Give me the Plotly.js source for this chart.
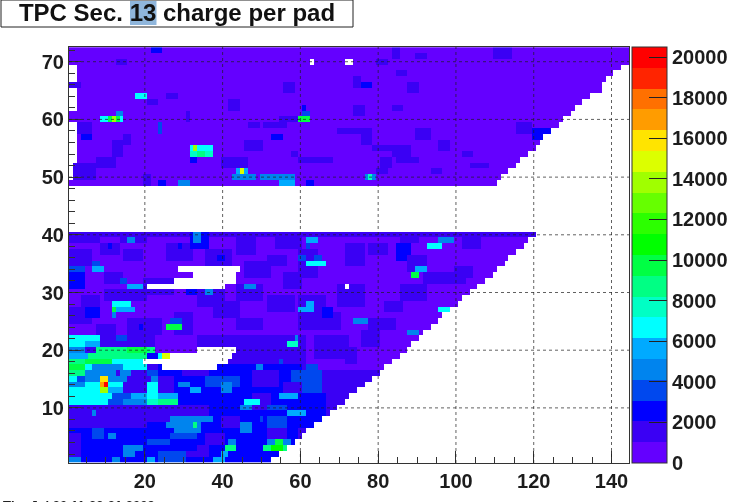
<!DOCTYPE html>
<html>
<head>
<meta charset="utf-8">
<script src="https://cdn.plot.ly/plotly-3.0.1.min.js"></script>
<style>html,body{margin:0;padding:0;background:#fff;overflow:hidden;width:740px;height:502px}#chart{width:760px;height:502px;filter:blur(0.55px)}</style>
</head>
<body>
<div id="chart"></div>
<script>
var titleText = "TPC Sec. 13 charge per pad";
var stampText = "Thu Jul 30 11:23:31 2009";
var xTicks = [20, 40, 60, 80, 100, 120, 140];
var yTicks = [10, 20, 30, 40, 50, 60, 70];
var barTicks = [0, 2000, 4000, 6000, 8000, 10000, 12000, 14000, 16000, 18000, 20000];
var bandColors = ["#6400ff","#3a00f4","#0000ff","#0048ee","#0084ee","#00aaff","#00ffff","#00ffc4","#00ff84","#00ff44",
                  "#00ff00","#2cff00","#66ff00","#a0ff00","#dcff00","#ffe400","#ff9c00","#ff7000","#ff2400","#ff0000"];

// last filled pad of each row
var rowEndLower = [52,54,56,58,60,61,63,65,67,69,71,72,74,76,78,80,81,83,85,87,88,90,91,93,95,96,98,100,101,103,105,107,109,110,112,113,115,117,118,120];
var rowEndUpper = [110,111,113,115,116,118,120,121,122,124,126,127,129,130,132,134,137,137,138,140,142,144,144,144];

// blocks: [rowFrom, rowTo, padFrom, padTo, charge]
var backgroundBlocks = [
  [49,72,1,144,600],[23,40,1,121,800],[11,22,1,90,1300],[1,10,1,70,2400],[40,40,1,121,1700],
  [7,10,1,20,1500],[8,10,20,32,1700],[2,5,1,3,1500],[1,6,60,70,1500],[7,16,66,81,1100],[17,22,62,90,800],
  [11,17,24,45,2500],[12,15,24,27,1600],[20,22,23,33,1000],[18,22,44,60,1700],[12,17,46,60,2400],[9,12,46,66,2300],[13,16,60,65,3100]
];
var textureBlocks = [
  [39,40,1,8,1400],[39,40,14,20,1400],[37,38,9,13,1700],[35,37,1,6,1500],[31,33,1,4,2600],[29,30,10,20,1500],[30,32,20,27,1500],
  [36,38,26,32,2000],[38,40,32,36,2500],[35,37,36,42,2000],[28,30,34,40,2000],[25,27,1,6,1600],[26,27,5,8,2400],
  [23,25,16,24,1500],[23,26,28,32,1600],[28,29,4,8,1400],[23,24,8,12,1500],[32,33,10,14,1300],[36,37,15,19,1300],
  [37,39,44,48,1500],[33,35,46,52,1500],[29,31,44,50,1600],[26,28,38,44,1500],[24,25,44,50,1700],[27,29,52,58,1500],
  [38,40,54,60,1500],[35,36,52,56,1400],[31,33,56,60,1700],[24,26,60,70,1400],[19,22,64,72,1500],[28,31,70,76,1400],
  [26,29,60,66,2000],[33,37,60,64,1600],[35,38,72,76,1300],[37,38,78,82,1500],[39,39,86,90,1500],
  [36,38,85,88,2200],[34,36,88,92,1900],[32,33,92,102,2000],[33,34,100,104,1600],[29,31,86,92,1300],[24,25,78,84,1300],
  [21,23,76,80,1300],[27,28,82,86,1500],[38,39,102,106,1500],[26,27,66,68,2400],
  [13,15,70,73,1900],[9,10,64,66,2200],[14,16,76,78,1500],[18,20,72,74,2000],[15,17,62,64,3400],
  [10,12,48,52,1500],[14,16,48,54,1500],[13,14,56,60,1500],[18,20,52,58,1300],[15,16,58,60,3200],[10,10,52,56,3200],
  [7,8,40,44,1500],[5,6,52,56,1500],[2,3,30,36,1800],[7,8,52,56,3200],[4,5,36,40,1700],[1,2,24,30,3200],
  [9,10,30,36,1600],[16,17,30,36,1700],[14,15,36,44,3200],
  // upper section
  [57,57,4,6,2500],[58,59,3,6,1500],[64,64,26,28,1900],[63,63,21,23,1800],[60,61,31,31,1900],[70,70,13,15,1700],[72,72,22,24,2500],
  [54,56,12,14,1800],[52,53,8,12,1500],[50,52,2,7,1500],[56,57,15,16,1500],[66,66,1,3,1700],[49,50,20,21,1900],
  [57,57,53,55,3000],[59,59,47,49,2000],[59,59,51,56,1500],[60,60,55,59,1500],[54,54,58,59,2000],[53,53,60,68,1500],
  [58,58,70,78,1500],[61,62,74,76,2000],[58,59,24,24,3500],[52,53,40,46,1400],[55,56,46,50,1400],
  [49,49,29,31,4400],[49,49,24,25,3000],[49,49,62,63,2800],[62,63,42,44,1500],[65,66,56,58,1400],
  [66,66,76,78,3000],[66,67,74,75,1600],[70,70,80,82,1700],[71,72,84,85,1800],[71,71,90,92,2000],[68,68,85,87,1600],
  [56,57,76,78,1500],[55,55,79,83,1500],[54,55,84,88,1500],[53,53,85,90,1500],[52,53,81,83,1600],[51,51,80,82,1500],
  [57,58,90,93,1600],[55,56,96,98,1500],[54,54,102,104,1400],[52,52,104,108,1400],[51,51,94,96,1700],
  [57,58,120,126,2400],[58,59,116,119,1500],[71,72,110,114,1500],[65,66,88,90,1400],[62,62,84,86,1400]
];
var upperHotBlocks = [
  [60,60,9,14,6400],[60,60,11,13,9800],[60,60,12,12,14000],[61,61,13,14,4500],
  [64,64,18,20,6500],
  [55,55,32,37,6800],[55,55,33,33,14000],[54,54,32,37,7400],[54,54,34,35,9000],[53,53,32,33,3000],
  [51,51,44,46,6000],[51,51,45,45,14600],[50,50,43,48,5000],[50,50,50,58,4300],[49,49,55,58,5200],
  [60,60,60,62,9800],[61,61,61,62,3800],[62,62,61,61,2600],
  [50,50,77,79,5000],[50,50,78,78,7200]
];
var middleHotBlocks = [
  [39,39,62,64,5500],[38,38,62,62,3600],[38,38,93,96,6500],[39,39,96,99,4200],
  [35,35,62,66,7000],[36,36,60,61,3400],[36,36,64,65,3600],
  [33,33,89,90,10000],[34,34,90,92,6000],[31,31,46,48,5000],
  [28,28,62,63,6000],[27,27,60,63,5500],[25,25,74,77,5000],[27,27,96,98,7000],[23,23,88,90,4500],
  [21,21,57,59,7500],[22,22,59,59,4500],
  [39,40,33,34,4200],[39,39,16,17,4200],[38,38,11,11,3000],[38,38,29,29,2600],[36,36,39,40,3000],
  [30,30,36,37,4700],[30,30,31,33,2600],
  [34,34,1,4,4000],[34,34,7,9,6000],[35,35,7,8,4000],[31,31,16,19,6100],[32,32,14,15,3100],
  [28,28,12,16,6600],[27,27,12,17,5600],[27,27,12,12,10000],[26,26,12,12,4200],[27,27,7,7,2600],
  [24,24,26,29,10000],[25,25,27,29,3600],[24,24,19,19,3000],[22,22,13,15,3600],
  [22,22,1,8,6500],[21,21,1,4,6200],[21,21,5,8,5200]
];
var lowerHotBlocks = [
  [20,20,1,4,5000],[20,20,8,22,8600],[20,20,16,20,10200],
  [19,19,1,5,6000],[19,19,6,20,9000],[19,19,21,23,3000],[19,19,24,24,6500],[19,19,25,26,14600],
  [18,18,1,4,8500],[18,18,5,11,9600],[18,18,12,19,7000],
  [17,17,1,4,10200],[17,17,5,6,7000],[17,17,7,14,4500],[17,17,15,20,6200],
  [16,16,1,4,9000],[16,16,5,12,5000],[16,16,21,23,4000],[16,16,14,16,4400],
  [15,15,1,2,7000],[15,15,3,4,3500],[15,15,5,8,4500],[15,15,9,10,15800],[15,15,11,15,5000],[15,15,22,23,5000],
  [14,14,1,4,5000],[14,14,5,8,7000],[14,14,9,9,17000],[14,14,10,10,20000],[14,14,11,14,7000],[14,14,21,23,6200],[14,14,29,31,4400],
  [13,13,1,8,6500],[13,13,9,10,14000],[13,13,11,14,6000],[13,13,21,23,6500],[13,13,32,34,5200],[13,14,40,42,5000],
  [12,12,1,8,7000],[12,12,9,11,6500],[12,12,12,16,4000],[12,12,17,20,5500],[12,12,21,23,7000],[12,12,24,28,5200],
  [11,11,1,10,6500],[11,11,11,14,3600],[11,11,15,20,5000],[11,11,21,23,7600],[11,11,24,28,8200],
  [10,10,45,47,4500],[9,9,7,7,4500],
  [8,8,27,37,5000],[7,7,26,34,5000],[7,7,33,33,9000],[6,6,28,34,4500],[5,5,27,33,4000],[4,4,21,26,3500],[3,3,29,33,3000],
  [5,6,7,9,4000],[5,5,11,12,4500],[3,3,15,19,5000],[4,4,17,17,3000],[2,2,15,17,4500],
  [1,1,1,3,4500],[1,1,12,13,4500],[1,1,21,22,6000],
  [3,3,41,43,9000],[2,2,40,41,6000],[1,1,38,40,6000],[4,4,42,43,4500],[6,7,45,47,4200],
  [17,17,49,50,5000],[18,18,55,55,3600],[12,12,55,59,6000],[11,11,46,49,6500],[9,9,57,61,5500],[6,6,45,47,5000],[8,8,50,50,4000],
  [3,3,51,56,9000],[3,3,53,55,10600],[4,4,52,57,4200],[4,4,54,55,10000]
];
// empty pads (no entries)
var emptyBlocks = [
  [70,70,63,63],[70,70,72,73],[31,31,72,72],
  [67,69,1,2],[62,65,1,2],[53,59,1,2],[50,52,1,1],
  [34,34,29,44],[33,33,33,43],[32,32,28,43],[31,31,21,40],
  [20,20,34,43],[19,19,27,42],[18,18,20,41],[17,17,25,38]
];

var nX = 144, nY = 72;
function emptyGrid() {
  var g = [];
  for (var r = 1; r <= nY; r++) { var row = []; for (var c = 1; c <= nX; c++) row.push(null); g.push(row); }
  return g;
}
function paint(g, blocks, isEmpty) {
  blocks.forEach(function (b) {
    for (var r = b[0]; r <= b[1]; r++) for (var c = b[2]; c <= b[3]; c++) g[r - 1][c - 1] = isEmpty ? null : b[4];
  });
}
var z = emptyGrid();
paint(z, backgroundBlocks, false);
paint(z, textureBlocks, false);
paint(z, upperHotBlocks, false);
paint(z, middleHotBlocks, false);
paint(z, lowerHotBlocks, false);
paint(z, emptyBlocks, true);
function rowEnd(r) {
  if (r <= 40) return rowEndLower[r - 1];
  if (r >= 49) return rowEndUpper[r - 49];
  return 0;
}
for (var r = 1; r <= nY; r++) {
  var end = rowEnd(r);
  for (var c = 1; c <= nX; c++) if (c > end) z[r - 1][c - 1] = null;
}
var xs = [], ys = [];
for (var i = 1; i <= nX; i++) xs.push(i);
for (var j = 1; j <= nY; j++) ys.push(j);

var zMax = 20500;
var scale = [];
bandColors.forEach(function (col, k) {
  scale.push([k / bandColors.length, col]);
  scale.push([(k + 1) / bandColors.length, col]);
});

var fontFam = "Liberation Sans, Arial, sans-serif";
var labelFont = {family: fontFam, size: 20, color: "#1c1c1c", weight: "bold"};
var axisBase = {
  showgrid: false, zeroline: false, showline: true, linecolor: "#333", linewidth: 1, mirror: true,
  ticks: "inside", ticklen: 12, tickcolor: "#333", tickwidth: 1, tickfont: labelFont
};
var gridStyle = {color: "rgba(30,30,30,0.7)", width: 1, dash: "dot"};
var fullW = 760;
var W = fullW - 69; // paper width in px (left margin only)
var H = 416;
var shapes = [
  {type: "rect", xref: "paper", yref: "paper", x0: -68/W, x1: 284/W, y0: 436/H, y1: 463/H,
   fillcolor: "#fff", line: {color: "#222", width: 1}},
  {type: "rect", xref: "paper", yref: "paper", x0: 61/W, x1: 87.5/W, y0: 438/H, y1: 462/H,
   fillcolor: "#8fb6dc", line: {width: 0}}
];
xTicks.forEach(function (t) {
  shapes.push({type: "line", xref: "x", yref: "paper", x0: t, x1: t, y0: 0, y1: 1, line: gridStyle});
});
yTicks.forEach(function (t) {
  shapes.push({type: "line", xref: "x domain", yref: "y", x0: 0, x1: 1, y0: t, y1: t, line: gridStyle});
});

var trace = {
  type: "heatmap", x: xs, y: ys, z: z, zmin: 0, zmax: zMax, zsmooth: false, hoverongaps: false,
  colorscale: scale,
  colorbar: {
    x: 563/W, xanchor: "left", xpad: 0, y: 0, yanchor: "bottom", ypad: 0, len: 1, lenmode: "fraction",
    thickness: 35, thicknessmode: "pixels", outlinewidth: 1, outlinecolor: "#333",
    tickmode: "array", tickvals: barTicks, ticktext: barTicks.map(String),
    ticks: "inside", ticklen: 18, tickcolor: "#222", tickwidth: 1, tickfont: labelFont
  }
};
var layout = {
  width: fullW, height: 502, autosize: false, paper_bgcolor: "#fff", plot_bgcolor: "#fff",
  margin: {l: 69, r: 0, t: 47, b: 39, pad: 0},
  title: {text: titleText, x: 177/fullW, xanchor: "center", y: 1 - 13/502, yanchor: "middle", automargin: false,
          font: {family: fontFam, size: 24, color: "#111", weight: "bold"}},
  xaxis: Object.assign({}, axisBase, {domain: [0, 560/W], range: [0.5, 144.5], tickmode: "array", tickvals: xTicks,
    minor: {ticks: "inside", ticklen: 6, tickcolor: "#333", dtick: 5, tick0: 0, showgrid: false}}),
  yaxis: Object.assign({}, axisBase, {range: [0.45, 72.55], tickmode: "array", tickvals: yTicks,
    minor: {ticks: "inside", ticklen: 6, tickcolor: "#333", dtick: 2, tick0: 0, showgrid: false}}),
  shapes: shapes,
  annotations: [{text: stampText, xref: "paper", yref: "paper", x: -67/W, y: -34/H, xanchor: "left", yanchor: "top",
    showarrow: false, borderpad: 0, font: {family: fontFam, size: 13, color: "#222", weight: "bold"}}]
};
Plotly.newPlot("chart", [trace], layout, {displayModeBar: false, staticPlot: true});
</script>
</body>
</html>
